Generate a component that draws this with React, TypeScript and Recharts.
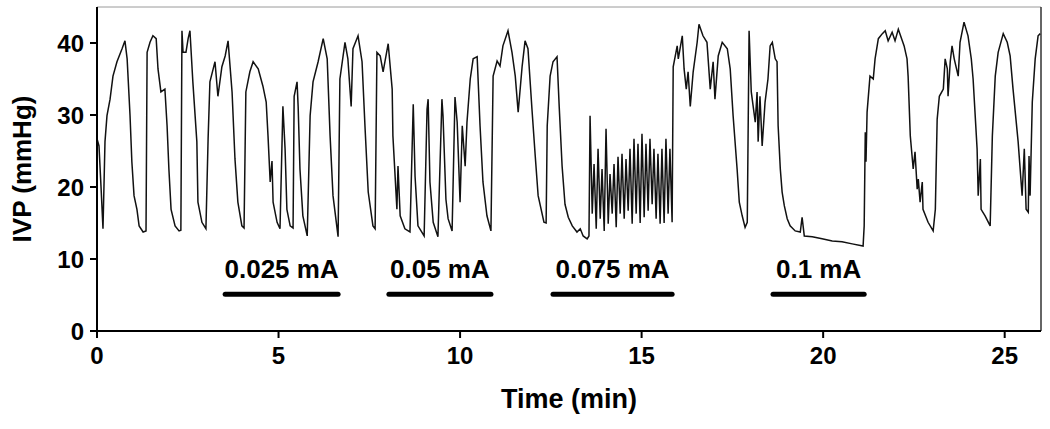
import React from 'react';
import { LineChart, Line, XAxis, YAxis, ReferenceLine } from 'recharts';

// IVP trace, [time (min), pressure (mmHg)], split by stimulation epoch
const control: [number, number][] = [
  [0, 26.7], [0.055, 25.7], [0.11, 20.1], [0.165, 14.2], [0.22, 26.3], [0.275, 29.9], [0.36, 32.2],
  [0.44, 35.4], [0.55, 37.4], [0.69, 39.2], [0.77, 40.3], [0.83, 37.8], [0.91, 29.9], [0.96, 23.5],
  [1.02, 18.8], [1.1, 16.9], [1.16, 14.6], [1.27, 13.75], [1.35, 13.9], [1.38, 38.7], [1.46, 40.1],
  [1.54, 41.0], [1.63, 40.6], [1.68, 36.4], [1.76, 33.2], [1.87, 33.6], [1.93, 28.5], [1.98, 22.5],
  [2.04, 16.9], [2.15, 14.6], [2.26, 13.9], [2.31, 14.0], [2.34, 41.7], [2.37, 38.7], [2.45, 38.7],
  [2.51, 40.6], [2.56, 41.7], [2.64, 34.6], [2.75, 26.3], [2.78, 17.9], [2.89, 15.1], [3.0, 14.2],
  [3.06, 26.7], [3.11, 34.6], [3.2, 36.4], [3.25, 37.4], [3.33, 32.6], [3.44, 36.7], [3.53, 38.2],
];
const stim025: [number, number][] = [
  [3.61, 40.3], [3.72, 33.2], [3.8, 23.9], [3.88, 17.9], [3.99, 14.6], [4.05, 14.3], [4.1, 33.2],
  [4.21, 36.0], [4.3, 37.4], [4.44, 36.4], [4.57, 34.0], [4.66, 31.8], [4.71, 27.1], [4.77, 20.7],
  [4.82, 23.6], [4.85, 17.9], [4.96, 15.1], [5.04, 14.2], [5.12, 31.2], [5.18, 25.3], [5.23, 16.9],
  [5.32, 14.6], [5.4, 14.3], [5.43, 32.6], [5.51, 34.6], [5.54, 31.2], [5.59, 22.5], [5.67, 16.0],
  [5.79, 13.2], [5.87, 29.9], [5.95, 34.6], [6.09, 37.4], [6.23, 40.6], [6.34, 37.8], [6.42, 27.1],
  [6.5, 18.8], [6.64, 13.1],
];
const rest1: [number, number][] = [
  [6.69, 35.0], [6.83, 40.1], [6.91, 37.8], [7.0, 31.2], [7.05, 39.2], [7.19, 41.0], [7.3, 37.4],
  [7.38, 28.5], [7.47, 19.3], [7.6, 14.6], [7.66, 14.2], [7.71, 38.7], [7.8, 38.2], [7.88, 36.0],
  [8.02, 39.9],
];
const stim05: [number, number][] = [
  [8.13, 33.6], [8.15, 27.1], [8.26, 16.9], [8.29, 22.9], [8.35, 16.0], [8.48, 14.2], [8.62, 13.75],
  [8.71, 31.5], [8.76, 21.5], [8.84, 14.6], [9.01, 13.2], [9.09, 30.8], [9.12, 32.2], [9.17, 20.7],
  [9.26, 15.1], [9.39, 13.1], [9.5, 32.2], [9.53, 29.9], [9.61, 18.3], [9.67, 15.6], [9.78, 13.9],
  [9.86, 32.5], [9.92, 29.0], [10.0, 17.9], [10.06, 28.5], [10.14, 22.9], [10.19, 29.0], [10.28, 35.0],
  [10.36, 37.8], [10.47, 38.1], [10.55, 28.5], [10.63, 20.7], [10.74, 16.0], [10.85, 13.9],
];
const rest2: [number, number][] = [
  [10.91, 35.4], [11.02, 37.5], [11.1, 36.8], [11.18, 39.6], [11.32, 41.7], [11.43, 38.7], [11.52, 35.4],
  [11.6, 30.4], [11.71, 36.8], [11.79, 40.3], [11.87, 39.2], [11.98, 30.8], [12.07, 24.3], [12.15, 18.8],
  [12.31, 15.1], [12.37, 15.0], [12.4, 28.5], [12.48, 35.4], [12.56, 37.4], [12.67, 38.1],
];
const stim075: [number, number][] = [
  [12.73, 31.2], [12.81, 22.9], [12.89, 17.6], [12.98, 15.8], [13.09, 14.6], [13.22, 13.75], [13.31, 14.2],
  [13.39, 13.2], [13.5, 12.8], [13.55, 13.2], [13.58, 29.9], [13.64, 16.3], [13.69, 23.2], [13.75, 14.2],
  [13.8, 25.3], [13.86, 15.6], [13.91, 22.5], [13.97, 13.9], [14.02, 28.1], [14.08, 14.9], [14.13, 21.8],
  [14.19, 16.3], [14.24, 23.2], [14.3, 14.4], [14.35, 24.2], [14.41, 16.3], [14.46, 24.6], [14.52, 15.6],
  [14.57, 23.9], [14.63, 16.7], [14.68, 25.3], [14.74, 14.9], [14.79, 26.7], [14.85, 16.3], [14.9, 26.0],
  [14.96, 15.0], [15.01, 27.4], [15.07, 15.8], [15.12, 26.0], [15.18, 16.7], [15.23, 26.7], [15.29, 17.6],
  [15.34, 25.3], [15.4, 15.6], [15.45, 24.6], [15.51, 14.9], [15.56, 25.3], [15.62, 15.0], [15.67, 26.7],
  [15.73, 16.3], [15.78, 25.3], [15.84, 15.1],
];
const rest3: [number, number][] = [
  [15.87, 36.7], [15.98, 39.6], [16.01, 37.8], [16.12, 41.0], [16.17, 36.4], [16.23, 33.6], [16.28, 36.0],
  [16.34, 31.2], [16.42, 36.0], [16.53, 40.1], [16.58, 42.6], [16.69, 41.0], [16.8, 40.1], [16.89, 33.6],
  [16.97, 37.4], [17.02, 32.2], [17.11, 38.2], [17.22, 40.1], [17.36, 39.2], [17.44, 36.4], [17.52, 29.9],
  [17.63, 22.5], [17.69, 17.9], [17.77, 16.0], [17.85, 14.4], [17.91, 15.1], [17.96, 41.7], [18.02, 33.2],
  [18.13, 29.0], [18.18, 33.2], [18.21, 26.3], [18.26, 32.6], [18.32, 25.7], [18.4, 31.8], [18.48, 35.0],
  [18.54, 39.6],
];
const stim01: [number, number][] = [
  [18.6, 40.1], [18.68, 37.8], [18.73, 37.4], [18.76, 28.5], [18.82, 22.5], [18.87, 19.3], [18.93, 17.4],
  [19.01, 15.6], [19.09, 14.6], [19.23, 13.9], [19.37, 13.75], [19.42, 15.8], [19.48, 13.2], [19.7, 13.1],
  [19.97, 12.8], [20.25, 12.5], [20.52, 12.4], [20.8, 12.1], [21.1, 11.8],
];
const recovery: [number, number][] = [
  [21.13, 14.6], [21.16, 27.6], [21.18, 23.5], [21.21, 30.4], [21.29, 35.4], [21.38, 35.0], [21.43, 37.8],
  [21.52, 40.6], [21.63, 41.3], [21.71, 41.7], [21.79, 40.3], [21.9, 41.5], [21.98, 40.3], [22.07, 41.9],
  [22.18, 40.3], [22.23, 39.6], [22.31, 37.8], [22.34, 35.4], [22.4, 27.1], [22.48, 22.5], [22.53, 24.9],
  [22.59, 19.7], [22.62, 21.1], [22.67, 17.9], [22.73, 20.7], [22.75, 16.9], [22.89, 15.1], [23.03, 13.9],
  [23.09, 16.9], [23.14, 29.4], [23.2, 32.6], [23.31, 33.6], [23.36, 37.8], [23.42, 36.4], [23.44, 32.6],
  [23.5, 37.4], [23.55, 39.6], [23.61, 37.8], [23.72, 35.4], [23.77, 40.1], [23.88, 42.9], [23.99, 41.0],
  [24.08, 37.8], [24.13, 35.0], [24.24, 25.3], [24.27, 18.8], [24.33, 23.9], [24.35, 16.9], [24.46, 16.0],
  [24.6, 14.6], [24.66, 27.1], [24.74, 35.4], [24.82, 38.7], [24.96, 41.3], [25.07, 40.1], [25.15, 38.2],
  [25.23, 33.6], [25.37, 26.3], [25.48, 18.8], [25.54, 25.3], [25.59, 16.9], [25.65, 16.5], [25.67, 24.3],
  [25.7, 18.8], [25.76, 31.8], [25.84, 37.8], [25.92, 41.0], [25.98, 41.3],
];

// stimulation periods
const stimLabels = ['0.025 mA', '0.05 mA', '0.075 mA', '0.1 mA'];
const stimStart = [3.53, 8.04, 12.56, 18.62];
const stimEnd = [6.64, 10.85, 15.84, 21.13];
const stimLevel = 5.1;

const xTicks = [0, 5, 10, 15, 20, 25];
const yTicks = [0, 10, 20, 30, 40];

const trace = [...control, ...stim025, ...rest1, ...stim05, ...rest2, ...stim075, ...rest3, ...stim01, ...recovery]
  .map(([t, ivp]) => ({ t, ivp }));

const font = '"Liberation Sans", Arial, sans-serif';
const tickStyle = { fill: '#000', fontSize: 24, fontWeight: 700, fontFamily: font };

const YTitle = ({ viewBox }: any) => {
  if (!viewBox) return null;
  const cx = viewBox.x + 22;
  const cy = viewBox.y + viewBox.height / 2;
  return (
    <text x={cx} y={cy} transform={`rotate(-90 ${cx} ${cy})`} textAnchor="middle" dominantBaseline="central"
      style={{ fontSize: 26, fontWeight: 700, fontFamily: font, fill: '#000' }}>
      IVP (mmHg)
    </text>
  );
};

export default function App() {
  return (
    <div style={{ position: 'absolute', left: 0, top: 0, background: '#fff' }}>
      <LineChart width={1050} height={429} data={trace} margin={{ top: 7, right: 9, bottom: 18, left: 0 }}>
        <XAxis dataKey="t" type="number" domain={[0, 26]} ticks={xTicks} allowDataOverflow
          height={80} tickSize={7} tickMargin={9} tick={tickStyle}
          axisLine={{ stroke: '#000', strokeWidth: 2 }} tickLine={{ stroke: '#000', strokeWidth: 2 }}
          label={{ value: 'Time (min)', position: 'insideBottom', offset: 3,
            style: { fontSize: 27, fontWeight: 700, fontFamily: font, fill: '#000' } }} />
        <YAxis type="number" domain={[0, 45]} ticks={yTicks} allowDataOverflow
          width={97} tickSize={7} tickMargin={6} tick={tickStyle}
          axisLine={{ stroke: '#000', strokeWidth: 2 }} tickLine={{ stroke: '#000', strokeWidth: 2 }}
          label={<YTitle />} />
        <ReferenceLine y={45} stroke="#9a9a9a" strokeWidth={1} />
        <ReferenceLine x={26} stroke="#333" strokeWidth={1.5} />
        {stimLabels.map((lab, i) => (
          <ReferenceLine key={lab}
            segment={[{ x: stimStart[i], y: stimLevel }, { x: stimEnd[i], y: stimLevel }]}
            stroke="#000" strokeWidth={5} strokeLinecap="round"
            label={{ value: lab, position: 'top', offset: 16,
              style: { fontSize: 26, fontWeight: 700, fontFamily: font, fill: '#000' } }} />
        ))}
        <Line type="linear" dataKey="ivp" stroke="#111" strokeWidth={1.5} dot={false} isAnimationActive={false} />
      </LineChart>
    </div>
  );
}
